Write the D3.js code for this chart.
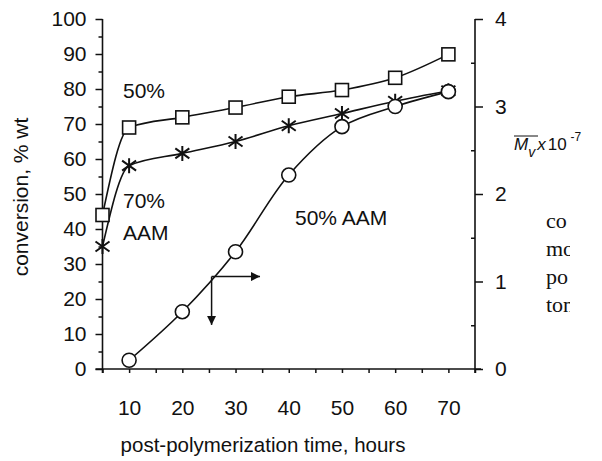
<!DOCTYPE html>
<html><head><meta charset="utf-8">
<script src="https://cdn.jsdelivr.net/npm/d3@7"></script>
<style>
body{margin:0;background:#fff}
svg{display:block}
text{font-family:"Liberation Sans",Arial,sans-serif;fill:#111}
</style>
</head><body><svg id="c" width="602" height="461"></svg>
<script>
// ---- data ----
const times   = [5, 10, 20, 30, 40, 50, 60, 70];
const conv50  = [44, 69, 71.9, 74.7, 77.8, 79.7, 83.2, 89.9];   // squares, left axis
const conv70  = [35, 58.1, 61.6, 65, 69.5, 73, 76.5, 79.5];     // stars, left axis
const mvTimes = [10, 20, 30, 40, 50, 60, 70];
const mv50    = [0.10, 0.655, 1.34, 2.217, 2.77, 3.0, 3.17];    // circles, right axis
const xTickLabels  = [10, 20, 30, 40, 50, 60, 70];
const xMinorTicks  = [5, 15, 25, 35, 45, 55, 65, 75];
const leftTicks    = [0, 10, 20, 30, 40, 50, 60, 70, 80, 90, 100];
const leftMinor    = [5, 15, 25, 35, 45, 55, 65, 75, 85, 95];
const rightTicks   = [0, 1, 2, 3, 4];
const rightMinor   = [0.5, 1.5, 2.5, 3.5];
const arrowOrigin  = [25.5, 26.4];  // time, conversion
const arrowRightTo = 34.6;          // time
const arrowDownTo  = 12.6;          // conversion

const svg = d3.select("#c");
const FS = 21;
const x  = d3.scaleLinear([5, 75], [102.5, 475]);
const yL = d3.scaleLinear([0, 100], [369, 19]);
const yR = d3.scaleLinear([0, 4], [369, 19]);

svg.append("defs").append("marker")
  .attr("id", "ah").attr("viewBox", "0 0 10 10").attr("refX", 10).attr("refY", 5)
  .attr("markerWidth", 11).attr("markerHeight", 9).attr("markerUnits", "userSpaceOnUse")
  .attr("orient", "auto")
  .append("path").attr("d", "M0,0L10,5L0,10Z").attr("fill", "#111");

function styleAxis(g) {
  g.select(".domain").remove();
  g.selectAll(".tick line").attr("stroke", "#111").attr("stroke-width", 1.5);
  g.selectAll(".tick text").style("font-size", FS + "px").attr("fill", "#111");
}

// left axis
svg.append("g").attr("transform", `translate(${x(5)},0)`)
  .call(d3.axisLeft(yL).tickValues(leftTicks).tickSize(7).tickPadding(9))
  .call(styleAxis);
svg.append("g").attr("transform", `translate(${x(5)},0)`)
  .call(d3.axisLeft(yL).tickValues(leftMinor).tickSize(4).tickFormat(""))
  .call(styleAxis);
// right axis
svg.append("g").attr("transform", `translate(${x(75)},0)`)
  .call(d3.axisRight(yR).tickValues(rightTicks).tickSize(8).tickPadding(12).tickFormat(d3.format("d")))
  .call(styleAxis);
svg.append("g").attr("transform", `translate(${x(75)},0)`)
  .call(d3.axisLeft(yR).tickValues(rightMinor).tickSize(4).tickFormat(""))
  .call(styleAxis);
// bottom axis
svg.append("g").attr("transform", `translate(0,${yL(0)})`)
  .call(d3.axisBottom(x).tickValues(xTickLabels).tickSize(4).tickPadding(27))
  .call(styleAxis);
svg.append("g").attr("transform", `translate(0,${yL(0)})`)
  .call(d3.axisBottom(x).tickValues(xMinorTicks).tickSize(4).tickFormat(""))
  .call(styleAxis);

// axis lines
const axisLines = svg.append("g").attr("stroke", "#111").attr("stroke-width", 1.6);
axisLines.append("line").attr("x1", x(5)).attr("x2", x(5)).attr("y1", yL(100)).attr("y2", yL(0) + 4);
axisLines.append("line").attr("x1", x(75)).attr("x2", x(75)).attr("y1", yR(4)).attr("y2", yR(0) + 4);
axisLines.append("line").attr("x1", x(5) - 7).attr("x2", x(75) + 6).attr("y1", yL(0)).attr("y2", yL(0));

// lines
const lineL = d3.line().x(d => x(d[0])).y(d => yL(d[1])).curve(d3.curveMonotoneX);
const lineR = d3.line().x(d => x(d[0])).y(d => yR(d[1])).curve(d3.curveCatmullRom);
const sqPts = times.map((t, i) => [t, conv50[i]]);
const stPts = times.map((t, i) => [t, conv70[i]]);
const ciPts = mvTimes.map((t, i) => [t, mv50[i]]);
const lines = svg.append("g").attr("fill", "none").attr("stroke", "#111").attr("stroke-width", 1.6);
lines.append("path").attr("d", lineL(sqPts));
lines.append("path").attr("d", lineL(stPts));
lines.append("path").attr("d", lineR(ciPts));

// markers
svg.append("g").selectAll("rect").data(sqPts).join("rect")
  .attr("x", d => x(d[0]) - 6.5).attr("y", d => yL(d[1]) - 6.5)
  .attr("width", 13).attr("height", 13)
  .attr("fill", "#fff").attr("stroke", "#111").attr("stroke-width", 1.6);

const starPath = "M0,-7.5L0,7.5M-7,-5L7,5M-7,5L7,-5";
svg.append("g").selectAll("path").data(stPts).join("path")
  .attr("transform", d => `translate(${x(d[0])},${yL(d[1])})`)
  .attr("d", starPath).attr("fill", "none").attr("stroke", "#111").attr("stroke-width", 2);

svg.append("g").selectAll("circle").data(ciPts).join("circle")
  .attr("cx", d => x(d[0])).attr("cy", d => yR(d[1])).attr("r", 7)
  .attr("fill", "#fff").attr("stroke", "#111").attr("stroke-width", 1.6);

// arrows
const ar = svg.append("g").attr("stroke", "#111").attr("stroke-width", 1.5);
ar.append("line").attr("x1", x(arrowOrigin[0])).attr("y1", yL(arrowOrigin[1]))
  .attr("x2", x(arrowRightTo)).attr("y2", yL(arrowOrigin[1])).attr("marker-end", "url(#ah)");
ar.append("line").attr("x1", x(arrowOrigin[0])).attr("y1", yL(arrowOrigin[1]))
  .attr("x2", x(arrowOrigin[0])).attr("y2", yL(arrowDownTo)).attr("marker-end", "url(#ah)");

// annotations
const ann = svg.append("g").style("font-size", FS + "px");
ann.append("text").attr("x", 123).attr("y", 98).text("50%");
ann.append("text").attr("x", 123).attr("y", 208).text("70%");
ann.append("text").attr("x", 123).attr("y", 240).text("AAM");
ann.append("text").attr("x", 295).attr("y", 225).text("50% AAM");

// axis titles
svg.append("text").attr("transform", "translate(28,197) rotate(-90)")
  .attr("text-anchor", "middle").style("font-size", FS + "px").text("conversion, % wt");
svg.append("text").attr("x", 263).attr("y", 452)
  .attr("text-anchor", "middle").style("font-size", "20.5px").text("post-polymerization time, hours");

// right axis title: Mv x 10^-7
const rt = svg.append("text").attr("x", 514).attr("y", 150).style("font-size", "17px");
const mT = rt.append("tspan").style("font-style", "italic").text("M");
rt.append("tspan").attr("dy", 7).style("font-size", "14px").style("font-style", "italic").text("v");
rt.append("tspan").attr("dy", -7).attr("dx", 2).style("font-style", "italic").text("x");
rt.append("tspan").attr("dx", 2).text("10");
rt.append("tspan").attr("dy", -9).attr("dx", 4).style("font-size", "12px").text("-7");
const mb = mT.node().getBBox();
svg.append("line").attr("x1", mb.x).attr("x2", mb.x + mb.width + 9)
  .attr("y1", mb.y + 1).attr("y2", mb.y + 1).attr("stroke", "#111").attr("stroke-width", 1);

// cropped body text on the right
const clip = svg.append("defs").append("clipPath").attr("id", "cp");
clip.append("rect").attr("x", 540).attr("y", 195).attr("width", 30).attr("height", 140);
const body = svg.append("g").attr("clip-path", "url(#cp)").style("font-size", "22px");
[["co", 228], ["mo", 256], ["po", 284], ["ton", 312]].forEach(([t, yy]) =>
  body.append("text").attr("x", 546).attr("y", yy)
    .style("font-family", "'Liberation Serif','Times New Roman',serif").text(t));
</script>
</body></html>
